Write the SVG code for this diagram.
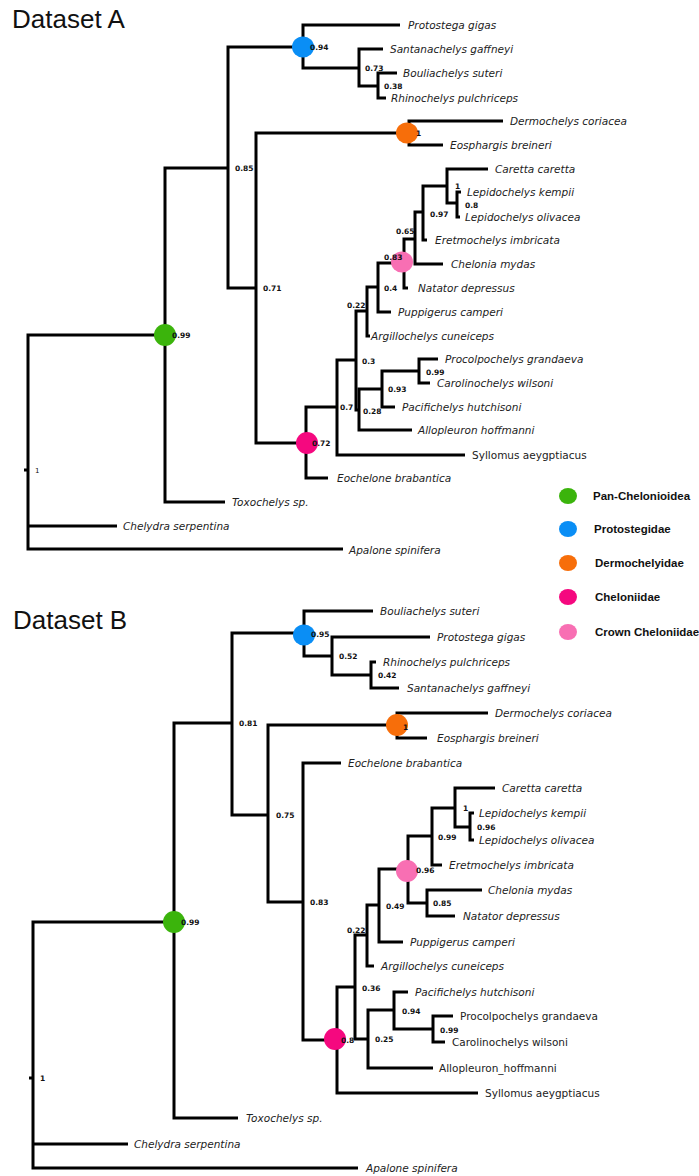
<svg xmlns="http://www.w3.org/2000/svg" width="699" height="1176" viewBox="0 0 699 1176">
<style>
.br{fill:none;stroke:#000;stroke-width:3;stroke-linejoin:miter;stroke-linecap:butt}
.tx{font-family:"DejaVu Sans",Verdana,sans-serif;font-size:10.5px;font-style:italic;fill:#222}
.up{font-style:normal}
.lb{font-family:"DejaVu Sans",Verdana,sans-serif;font-size:7.5px;font-weight:bold;fill:#111}
.rl{font-family:"DejaVu Sans",sans-serif;font-size:7px;fill:#111}
.ttl{font-family:"Liberation Sans",Arial,sans-serif;font-size:26px;fill:#111}
.lg{font-family:"Liberation Sans",Arial,sans-serif;font-size:11.5px;font-weight:bold;fill:#111}
.g{fill:#3bb40c}.b{fill:#0a8ef5}.o{fill:#f76e0a}.m{fill:#f5087f}.p{fill:#f86fb3}
</style>
<rect width="699" height="1176" fill="#fff"/>
<text class="ttl" x="12" y="28">Dataset A</text>
<text class="ttl" x="13" y="629">Dataset B</text>
<g id="connectors-A">
<path class="br" d="M165 335H28V549H343M28 526H117M24 470H28"/>
<path class="br" d="M228 168H165V502H225"/>
<path class="br" d="M303 47H228V288H256"/>
<path class="br" d="M400 25H303V68H359"/>
<path class="br" d="M383 49H359V86H378"/>
<path class="br" d="M397 73H378V98H386"/>
<path class="br" d="M409 133H256V443H306"/>
<path class="br" d="M503 121H409V145H443"/>
<path class="br" d="M337 407H306V478H328"/>
<path class="br" d="M356 360H337V455H465"/>
<path class="br" d="M367 311H356V410H359"/>
<path class="br" d="M378 287H367V336H370"/>
<path class="br" d="M404 263H378V312H391"/>
<path class="br" d="M415 239H404V288H408"/>
<path class="br" d="M423 212H415V264H443"/>
<path class="br" d="M447 186H423V240H427"/>
<path class="br" d="M488 169H447V203H457"/>
<path class="br" d="M461 192H457V217H460"/>
<path class="br" d="M382 389H359V430H412"/>
<path class="br" d="M419 371H382V407H395"/>
<path class="br" d="M438 359H419V383H430"/>
</g>
<g id="connectors-B">
<path class="br" d="M174 922H33V1168H358M33 1144H128M29 1078H33"/>
<path class="br" d="M232 723H174V1118H238"/>
<path class="br" d="M304 633H232V815H268"/>
<path class="br" d="M373 611H304V656H332"/>
<path class="br" d="M430 637H332V675H371"/>
<path class="br" d="M376 662H371V688H399"/>
<path class="br" d="M397 725H268V902H303"/>
<path class="br" d="M488 713H397V738H427"/>
<path class="br" d="M341 763H303V1040H337"/>
<path class="br" d="M355 987H337V1093H478"/>
<path class="br" d="M367 935H355V1039H368"/>
<path class="br" d="M379 905H367V966H374"/>
<path class="br" d="M408 869H379V942H403"/>
<path class="br" d="M432 836H408V903H427"/>
<path class="br" d="M455 808H432V865H442"/>
<path class="br" d="M495 788H455V827H470"/>
<path class="br" d="M474 813H470V840H474"/>
<path class="br" d="M482 890H427V916H455"/>
<path class="br" d="M394 1010H368V1068H433"/>
<path class="br" d="M408 992H394V1029H433"/>
<path class="br" d="M453 1016H433V1042H445"/>
</g>
<g id="nodes-A">
<g id="A-root"><text class="rl" x="35" y="473">1</text></g>
<g id="A-panchelonioidea"><ellipse class="g" cx="165" cy="335" rx="11" ry="11"/><text class="lb" x="172" y="338">0.99</text></g>
<g id="A-n085"><text class="lb" x="235" y="171">0.85</text></g>
<g id="A-protostegidae"><ellipse class="b" cx="303" cy="47" rx="11" ry="10.5"/><text class="lb" x="310" y="50">0.94</text></g>
<g id="A-n073"><text class="lb" x="365" y="71">0.73</text></g>
<g id="A-n038"><text class="lb" x="384" y="89">0.38</text></g>
<g id="A-n071"><text class="lb" x="263" y="291">0.71</text></g>
<g id="A-dermochelyidae"><ellipse class="o" cx="407" cy="133" rx="11" ry="10.5"/><text class="lb" x="416" y="136">1</text></g>
<g id="A-cheloniidae"><ellipse class="m" cx="307" cy="443" rx="11" ry="11"/><text class="lb" x="312" y="446">0.72</text></g>
<g id="A-n07"><text class="lb" x="340" y="410">0.7</text></g>
<g id="A-n03"><text class="lb" x="362" y="364">0.3</text></g>
<g id="A-n022"><text class="lb" x="347" y="308">0.22</text></g>
<g id="A-n04"><text class="lb" x="384" y="291">0.4</text></g>
<g id="A-crown"><ellipse class="p" cx="402" cy="262" rx="11" ry="10.5"/><text class="lb" x="384" y="260">0.83</text></g>
<g id="A-n065"><text class="lb" x="396" y="234">0.65</text></g>
<g id="A-n097"><text class="lb" x="430" y="217">0.97</text></g>
<g id="A-n1"><text class="lb" x="455" y="189">1</text></g>
<g id="A-n08"><text class="lb" x="465" y="208">0.8</text></g>
<g id="A-n028"><text class="lb" x="363" y="414">0.28</text></g>
<g id="A-n093"><text class="lb" x="388" y="392">0.93</text></g>
<g id="A-n099"><text class="lb" x="426" y="375">0.99</text></g>
</g>
<g id="leaves-A">
<text class="tx" x="408" y="29">Protostega gigas</text>
<text class="tx" x="390" y="53">Santanachelys gaffneyi</text>
<text class="tx" x="403" y="77">Bouliachelys suteri</text>
<text class="tx" x="391" y="102">Rhinochelys pulchriceps</text>
<text class="tx" x="510" y="125">Dermochelys coriacea</text>
<text class="tx" x="450" y="149">Eosphargis breineri</text>
<text class="tx" x="495" y="173">Caretta caretta</text>
<text class="tx" x="467" y="196">Lepidochelys kempii</text>
<text class="tx" x="465" y="221">Lepidochelys olivacea</text>
<text class="tx" x="435" y="244">Eretmochelys imbricata</text>
<text class="tx" x="451" y="268">Chelonia mydas</text>
<text class="tx" x="418" y="292">Natator depressus</text>
<text class="tx" x="398" y="316">Puppigerus camperi</text>
<text class="tx" x="371" y="340">Argillochelys cuneiceps</text>
<text class="tx" x="445" y="363">Procolpochelys grandaeva</text>
<text class="tx" x="437" y="387">Carolinochelys wilsoni</text>
<text class="tx" x="402" y="411">Pacifichelys hutchisoni</text>
<text class="tx" x="418" y="434">Allopleuron hoffmanni</text>
<text class="tx up" x="472" y="459">Syllomus aeygptiacus</text>
<text class="tx" x="337" y="482">Eochelone brabantica</text>
<text class="tx" x="232" y="506">Toxochelys sp.</text>
<text class="tx" x="123" y="530">Chelydra serpentina</text>
<text class="tx" x="349" y="554">Apalone spinifera</text>
</g>
<g id="nodes-B">
<g id="B-root"><text class="lb" x="40" y="1081">1</text></g>
<g id="B-panchelonioidea"><ellipse class="g" cx="174" cy="922" rx="11" ry="11"/><text class="lb" x="181" y="925">0.99</text></g>
<g id="B-n081"><text class="lb" x="239" y="726">0.81</text></g>
<g id="B-protostegidae"><ellipse class="b" cx="304" cy="635" rx="11" ry="10.5"/><text class="lb" x="311" y="637">0.95</text></g>
<g id="B-n052"><text class="lb" x="339" y="659">0.52</text></g>
<g id="B-n042"><text class="lb" x="378" y="678">0.42</text></g>
<g id="B-n075"><text class="lb" x="276" y="818">0.75</text></g>
<g id="B-dermochelyidae"><ellipse class="o" cx="397" cy="725" rx="11" ry="11"/><text class="lb" x="403" y="730">1</text></g>
<g id="B-n083"><text class="lb" x="310" y="905">0.83</text></g>
<g id="B-cheloniidae"><ellipse class="m" cx="335" cy="1039" rx="11" ry="11"/><text class="lb" x="341" y="1043">0.8</text></g>
<g id="B-n036"><text class="lb" x="362" y="991">0.36</text></g>
<g id="B-n022"><text class="lb" x="347" y="933">0.22</text></g>
<g id="B-n049"><text class="lb" x="386" y="909">0.49</text></g>
<g id="B-crown"><ellipse class="p" cx="407" cy="871" rx="11" ry="11"/><text class="lb" x="416" y="873">0.96</text></g>
<g id="B-n099"><text class="lb" x="438" y="840">0.99</text></g>
<g id="B-n1"><text class="lb" x="463" y="811">1</text></g>
<g id="B-n096"><text class="lb" x="477" y="830">0.96</text></g>
<g id="B-n085"><text class="lb" x="433" y="906">0.85</text></g>
<g id="B-n025"><text class="lb" x="375" y="1042">0.25</text></g>
<g id="B-n094"><text class="lb" x="402" y="1014">0.94</text></g>
<g id="B-n099b"><text class="lb" x="440" y="1033">0.99</text></g>
</g>
<g id="leaves-B">
<text class="tx" x="380" y="615">Bouliachelys suteri</text>
<text class="tx" x="437" y="641">Protostega gigas</text>
<text class="tx" x="383" y="666">Rhinochelys pulchriceps</text>
<text class="tx" x="407" y="692">Santanachelys gaffneyi</text>
<text class="tx" x="495" y="717">Dermochelys coriacea</text>
<text class="tx" x="437" y="742">Eosphargis breineri</text>
<text class="tx" x="348" y="767">Eochelone brabantica</text>
<text class="tx" x="502" y="792">Caretta caretta</text>
<text class="tx" x="479" y="817">Lepidochelys kempii</text>
<text class="tx" x="479" y="844">Lepidochelys olivacea</text>
<text class="tx" x="449" y="869">Eretmochelys imbricata</text>
<text class="tx" x="488" y="894">Chelonia mydas</text>
<text class="tx" x="463" y="920">Natator depressus</text>
<text class="tx" x="410" y="946">Puppigerus camperi</text>
<text class="tx" x="381" y="970">Argillochelys cuneiceps</text>
<text class="tx" x="415" y="996">Pacifichelys hutchisoni</text>
<text class="tx up" x="460" y="1020">Procolpochelys grandaeva</text>
<text class="tx up" x="452" y="1046">Carolinochelys wilsoni</text>
<text class="tx up" x="439" y="1072">Allopleuron_hoffmanni</text>
<text class="tx up" x="485" y="1097">Syllomus aeygptiacus</text>
<text class="tx" x="246" y="1122">Toxochelys sp.</text>
<text class="tx" x="134" y="1148">Chelydra serpentina</text>
<text class="tx" x="366" y="1172">Apalone spinifera</text>
</g>
<g id="legend">
<g id="legend-pan"><ellipse class="g" cx="568" cy="496" rx="9" ry="8"/><text class="lg" x="593" y="500">Pan-Chelonioidea</text></g>
<g id="legend-proto"><ellipse class="b" cx="568" cy="529" rx="9" ry="8"/><text class="lg" x="594" y="533">Protostegidae</text></g>
<g id="legend-dermo"><ellipse class="o" cx="568" cy="563" rx="9" ry="8"/><text class="lg" x="595" y="567">Dermochelyidae</text></g>
<g id="legend-chel"><ellipse class="m" cx="568" cy="597" rx="9" ry="8"/><text class="lg" x="595" y="601">Cheloniidae</text></g>
<g id="legend-crown"><ellipse class="p" cx="568" cy="632" rx="9" ry="8"/><text class="lg" x="595" y="636">Crown Cheloniidae</text></g>
</g>
</svg>
